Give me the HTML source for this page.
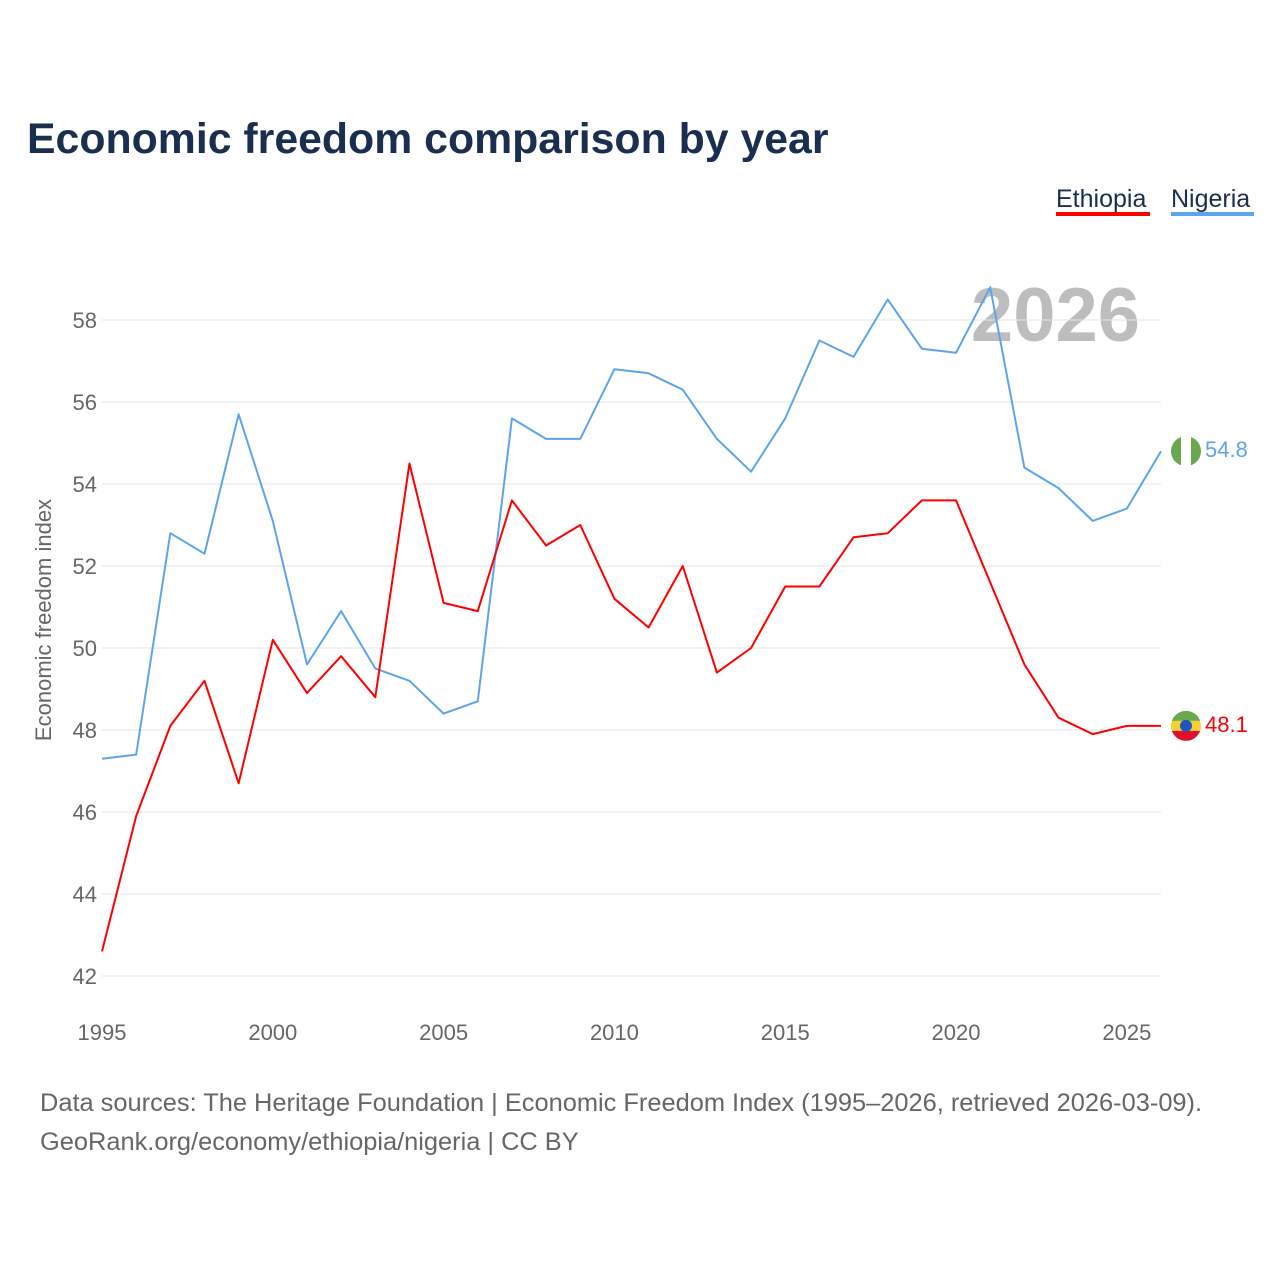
<!DOCTYPE html>
<html><head><meta charset="utf-8"><style>
body{margin:0;background:#fff;width:1280px;height:1280px;overflow:hidden;font-family:"Liberation Sans",sans-serif}
</style></head><body>
<svg width="1280" height="1280" id="chart" xmlns="http://www.w3.org/2000/svg">
<text x="27" y="153" font-size="42.8" font-weight="bold" fill="#1a2e4f">Economic freedom comparison by year</text>
<g><text x="1056" y="207" font-size="25" fill="#1a2e4f">Ethiopia</text><rect x="1056" y="212" width="94" height="4" fill="#ff0000"/></g>
<g><text x="1171" y="207" font-size="25" fill="#1a2e4f">Nigeria</text><rect x="1171" y="212" width="83" height="4" fill="#5ca5ec"/></g>
<text x="1140" y="341" font-size="76" font-weight="bold" fill="#bdbdbd" text-anchor="end">2026</text>
<g id="grid"></g><g id="yt"></g><g id="xt"></g><g id="lines"></g>
<text transform="translate(51,620) rotate(-90)" font-size="22" fill="#666" text-anchor="middle">Economic freedom index</text>
<text x="40" y="1111" font-size="25.4" fill="#666">Data sources: The Heritage Foundation | Economic Freedom Index (1995–2026, retrieved 2026-03-09).</text>
<text x="40" y="1150" font-size="25.4" fill="#666">GeoRank.org/economy/ethiopia/nigeria | CC BY</text>
</svg>
<script>
const years=[];for(let y=1995;y<=2026;y++)years.push(y);
const nigeria=[47.3,47.4,52.8,52.3,55.7,53.1,49.6,50.9,49.5,49.2,48.4,48.7,55.6,55.1,55.1,56.8,56.7,56.3,55.1,54.3,55.6,57.5,57.1,58.5,57.3,57.2,58.8,54.4,53.9,53.1,53.4,54.8];
const ethiopia=[42.6,45.9,48.1,49.2,46.7,50.2,48.9,49.8,48.8,54.5,51.1,50.9,53.6,52.5,53.0,51.2,50.5,52.0,49.4,50.0,51.5,51.5,52.7,52.8,53.6,53.6,51.6,49.6,48.3,47.9,48.1,48.1];
const yTicks=[42,44,46,48,50,52,54,56,58];
const xTicks=[1995,2000,2005,2010,2015,2020,2025];
const NS="http://www.w3.org/2000/svg";
const X=y=>102+(y-1995)*(1161-102)/31;
const Y=v=>976-(v-42)*41;
function mk(t,a,p){const e=document.createElementNS(NS,t);for(const k in a)e.setAttribute(k,a[k]);document.getElementById(p).appendChild(e);return e;}
yTicks.forEach(v=>{
 const l=mk('line',{x1:102,x2:1161,y1:Y(v),y2:Y(v),stroke:'#e6e6e6','stroke-width':1},'grid');
 
 
 const t=mk('text',{x:97,y:Y(v)+8,'font-size':22,fill:'#666','text-anchor':'end'},'yt');t.textContent=v;
 
 
});
xTicks.forEach(v=>{
 const t=mk('text',{x:X(v),y:1040,'font-size':22,fill:'#666','text-anchor':'middle'},'xt');t.textContent=v;
 
 
});
function series(d,c,name){
 const p=mk('polyline',{points:d.map((v,i)=>X(years[i])+','+Y(v)).join(' '),fill:'none',stroke:c,'stroke-width':2,'stroke-linejoin':'round'},'lines');
 
 
 const last=d[d.length-1],cy=Y(last);
 const g=mk('g',{},'lines');
 
 
 const t=document.createElementNS(NS,'text');t.setAttribute('x',1205);t.setAttribute('y',cy+6);t.setAttribute('font-size',22);t.setAttribute('fill',c);t.textContent=last.toFixed(1);g.appendChild(t);
 return cy;
}
let cyN=series(nigeria,'#5ca5ec','nigeria');
let cyE=series(ethiopia,'#ff0000','ethiopia');
let f=mk('g',{},'lines');
f.innerHTML=`<clipPath id="cn"><circle cx="1186" cy="${cyN}" r="15"/></clipPath><g clip-path="url(#cn)"><rect x="1171" y="${cyN-15}" width="30" height="30" fill="#fff"/><rect x="1171" y="${cyN-15}" width="10" height="30" fill="#6aa84f"/><rect x="1191" y="${cyN-15}" width="10" height="30" fill="#6aa84f"/></g>`;
f=mk('g',{},'lines');
f.innerHTML=`<clipPath id="ce"><circle cx="1186" cy="${cyE}" r="15"/></clipPath><g clip-path="url(#ce)"><rect x="1171" y="${cyE-15}" width="30" height="10" fill="#6aa84f"/><rect x="1171" y="${cyE-5}" width="30" height="10" fill="#f5d033"/><rect x="1171" y="${cyE+5}" width="30" height="10" fill="#e0102a"/><circle cx="1186" cy="${cyE}" r="6" fill="#2255bb"/></g>`;
</script>
</body></html>
